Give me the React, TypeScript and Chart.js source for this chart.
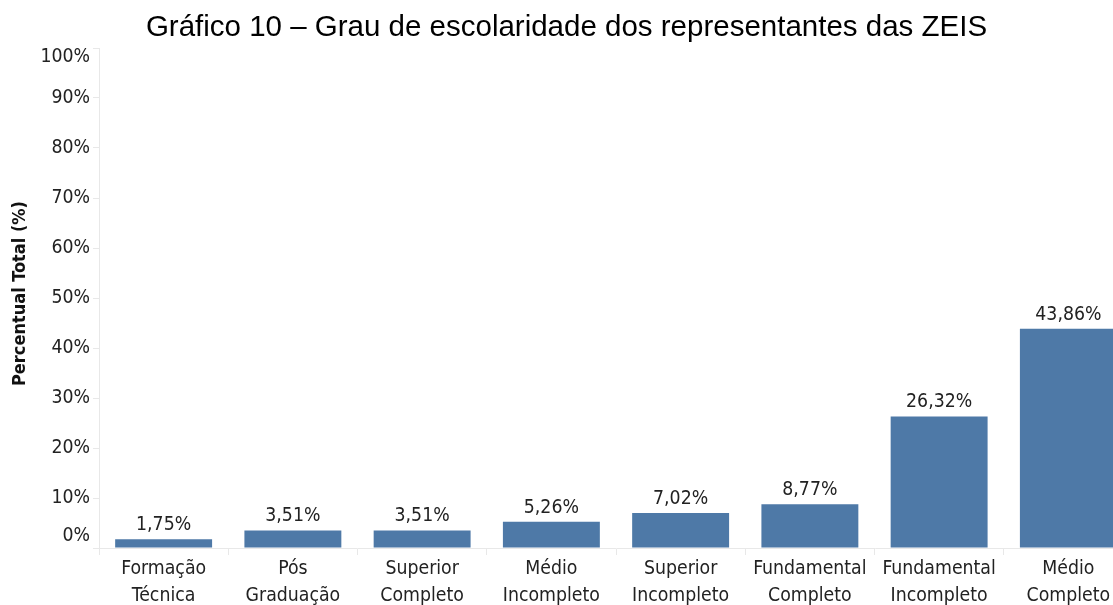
import React, { useEffect, useRef } from "react";
import { Chart, registerables } from "chart.js";

Chart.register(...registerables);

const titleText = "Gráfico 10 – Grau de escolaridade dos representantes das ZEIS";
const yAxisTitle = "Percentual Total (%)";
const categories: string[][] = [
  ["Formação", "Técnica"],
  ["Pós", "Graduação"],
  ["Superior", "Completo"],
  ["Médio", "Incompleto"],
  ["Superior", "Incompleto"],
  ["Fundamental", "Completo"],
  ["Fundamental", "Incompleto"],
  ["Médio", "Completo"],
];
const percentValues: number[] = [1.75, 3.51, 3.51, 5.26, 7.02, 8.77, 26.32, 43.86];
const yTickValues: number[] = [0, 10, 20, 30, 40, 50, 60, 70, 80, 90, 100];

const FONT = '"DejaVu Sans Condensed", "DejaVu Sans", sans-serif';
const TEXT = "#222222";
const BAR = "#4e79a7";
const AXIS = "#e8e8e8";

const fmt = (v: number) => v.toFixed(2).replace(".", ",") + "%";

const labelsPlugin = {
  id: "customLabels",
  afterDatasetsDraw(chart: any) {
    const ctx = chart.ctx;
    ctx.save();
    // data labels
    ctx.font = `19.3px ${FONT}`;
    ctx.fillStyle = TEXT;
    ctx.textAlign = "center";
    ctx.textBaseline = "alphabetic";
    const meta = chart.getDatasetMeta(0);
    meta.data.forEach((bar: any, i: number) => {
      ctx.fillText(fmt(percentValues[i]), bar.x, bar.y - 9);
    });
    // y tick labels (clamped inside the axis range like the original)
    const ys = chart.scales.y;
    ctx.textAlign = "right";
    ctx.textBaseline = "middle";
    yTickValues.forEach((v) => {
      let y = ys.getPixelForValue(v);
      if (v === 0) y = ys.bottom - 12;
      if (v === 100) y = ys.top + 9;
      ctx.fillText(v + "%", 90, y);
    });
    // y axis title
    ctx.translate(20, (ys.top + ys.bottom) / 2 - 4.5);
    ctx.rotate(-Math.PI / 2);
    ctx.textAlign = "center";
    ctx.fillStyle = "#111";
    ctx.font = `bold 18px ${FONT}`;
    ctx.fillText(yAxisTitle, 0, 0);
    ctx.restore();
  },
};

export default function App() {
  const ref = useRef<HTMLCanvasElement>(null);
  useEffect(() => {
    if (!ref.current) return;
    const chart = new Chart(ref.current, {
      type: "bar",
      data: {
        labels: categories,
        datasets: [
          {
            data: percentValues,
            backgroundColor: BAR,
            barPercentage: 0.75,
            categoryPercentage: 1,
          },
        ],
      },
      options: {
        responsive: false,
        animation: false,
        layout: { padding: 0 },
        plugins: {
          legend: { display: false },
          tooltip: { enabled: false },
          title: {
            display: true,
            text: titleText,
            color: "#000",
            font: { family: '"Liberation Sans", Arial, sans-serif', size: 29.5, weight: "normal", lineHeight: 1.2 },
            padding: { top: 10.6, bottom: 2 },
          },
        },
        scales: {
          x: {
            afterFit: (s: any) => {
              s.height = 57;
            },
            grid: { offset: true, drawOnChartArea: false, tickLength: 7, color: AXIS },
            border: { display: true, color: AXIS },
            ticks: {
              color: TEXT,
              font: { family: FONT, size: 19.3, lineHeight: 1.42 },
              padding: 0,
              maxRotation: 0,
              autoSkip: false,
            },
          },
          y: {
            min: 0,
            max: 100,
            afterFit: (s: any) => {
              s.width = 99;
            },
            grid: { drawOnChartArea: false, tickLength: 6, color: AXIS },
            border: { display: true, color: AXIS },
            ticks: { stepSize: 10, display: false },
          },
        },
      },
      plugins: [labelsPlugin],
    });
    return () => chart.destroy();
  }, []);
  return (
    <div
      style={{
        position: "fixed",
        left: 0,
        top: 0,
        width: 1113,
        height: 605,
        overflow: "hidden",
        background: "#fff",
      }}
    >
      <canvas ref={ref} width={1133} height={605} style={{ display: "block" }} />
    </div>
  );
}
